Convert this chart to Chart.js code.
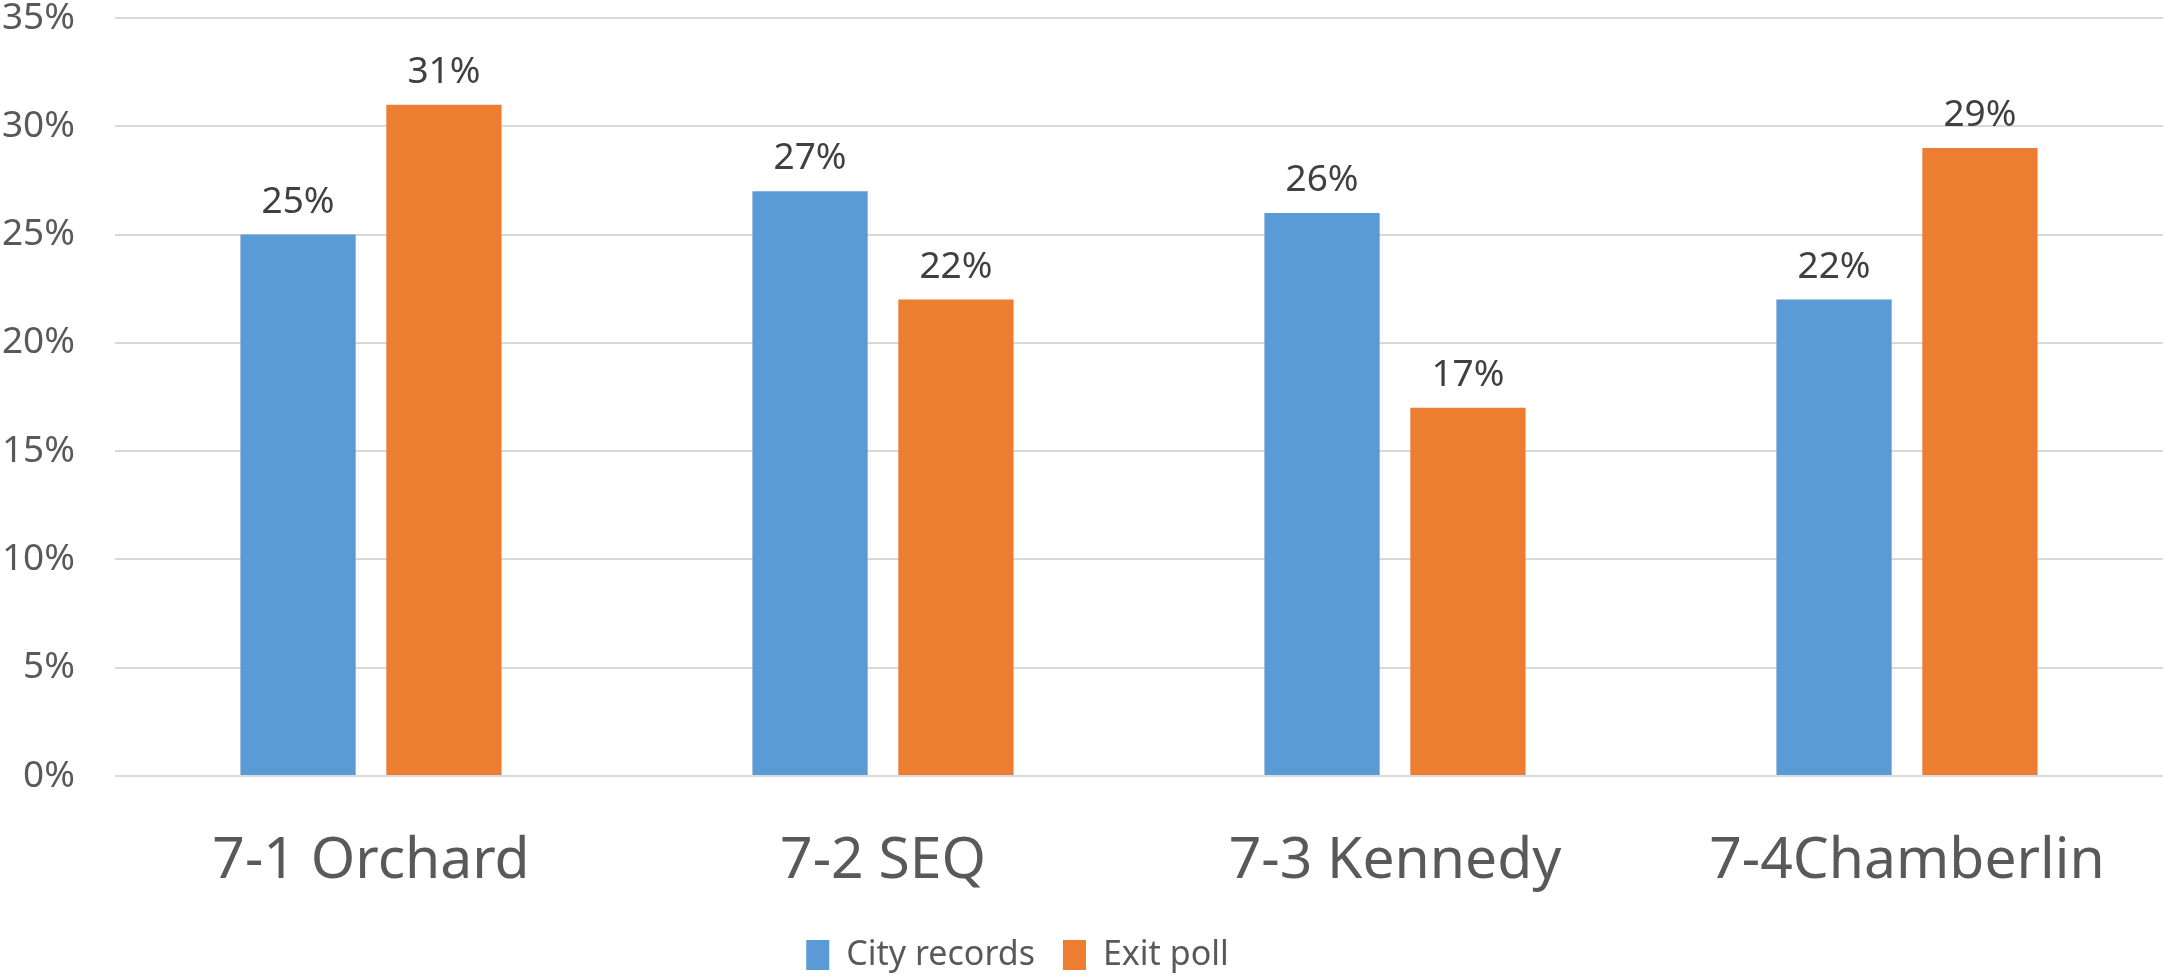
<!DOCTYPE html>
<html>
<head>
<meta charset="utf-8">
<script src="https://cdn.jsdelivr.net/npm/chart.js@4/dist/chart.umd.min.js"></script>
<style>
  html, body { margin: 0; padding: 0; background: #fff; }
  #wrap { width: 2165px; height: 976px; }
</style>
</head>
<body>
<div id="wrap"><canvas id="c"></canvas></div>
<script>
// Kategorien und Werte (in Prozent)
const categories = ['7-1 Orchard', '7-2 SEQ', '7-3 Kennedy', '7-4Chamberlin'];
const cityRecords = [25, 27, 26, 22];
const exitPoll = [31, 22, 17, 29];
const seriesNames = ['City records', 'Exit poll'];

const FONT = "'Noto Sans', 'Open Sans', sans-serif";

// Werte über den Balken schreiben
const barLabels = {
    id: 'barLabels',
    afterDatasetsDraw(chart) {
        const ctx = chart.ctx;
        ctx.save();
        ctx.font = `37px ${FONT}`;
        ctx.fillStyle = '#404040';
        ctx.textAlign = 'center';
        ctx.textBaseline = 'alphabetic';
        chart.data.datasets.forEach((ds, i) => {
            chart.getDatasetMeta(i).data.forEach((bar, j) => {
                ctx.fillText(ds.data[j] + '%', bar.x, bar.y - 22);
            });
        });
        ctx.restore();
    }
};

// Legende etwas nach links/unten schieben (wie im Original)
const legendShift = {
    id: 'legendShift',
    afterLayout(chart) {
        const lg = chart.legend;
        lg.left -= 64;
        lg.right -= 64;
        lg.top += 6;
        lg.bottom += 6;
    }
};

new Chart(document.getElementById('c'), {
    type: 'bar',
    data: {
        labels: categories,
        datasets: [
            {
                label: seriesNames[0],
                data: cityRecords,
                backgroundColor: '#5B9BD5',
                categoryPercentage: 0.57,
                barPercentage: 0.79
            },
            {
                label: seriesNames[1],
                data: exitPoll,
                backgroundColor: '#ED7D31',
                categoryPercentage: 0.57,
                barPercentage: 0.79
            }
        ]
    },
    options: {
        responsive: true,
        maintainAspectRatio: false,
        animation: false,
        layout: { padding: { left: 0, right: 2, top: 0, bottom: 0 } },
        scales: {
            y: {
                min: 0,
                max: 35,
                ticks: {
                    stepSize: 5,
                    padding: 40,
                    color: '#595959',
                    font: { family: FONT, size: 37 },
                    callback: v => v + '%'
                },
                grid: { color: '#D9D9D9', lineWidth: 2, drawTicks: false },
                border: { display: false },
                afterFit: s => {
                    s.width = 115;
                    s.paddingTop = 18;
                    s.paddingBottom = 0;
                }
            },
            x: {
                ticks: {
                    padding: 49,
                    maxRotation: 0,
                    color: '#595959',
                    font: { family: FONT, size: 57, lineHeight: 1.0 }
                },
                grid: { display: false },
                border: { display: false },
                afterFit: s => {
                    s.height = 128;
                    s.paddingLeft = 0;
                    s.paddingRight = 0;
                }
            }
        },
        plugins: {
            legend: {
                position: 'bottom',
                labels: {
                    boxWidth: 23,
                    boxHeight: 30,
                    padding: 28,
                    color: '#595959',
                    font: { family: FONT, size: 34 }
                }
            },
            tooltip: { enabled: false }
        }
    },
    plugins: [barLabels, legendShift]
});
</script>
</body>
</html>
